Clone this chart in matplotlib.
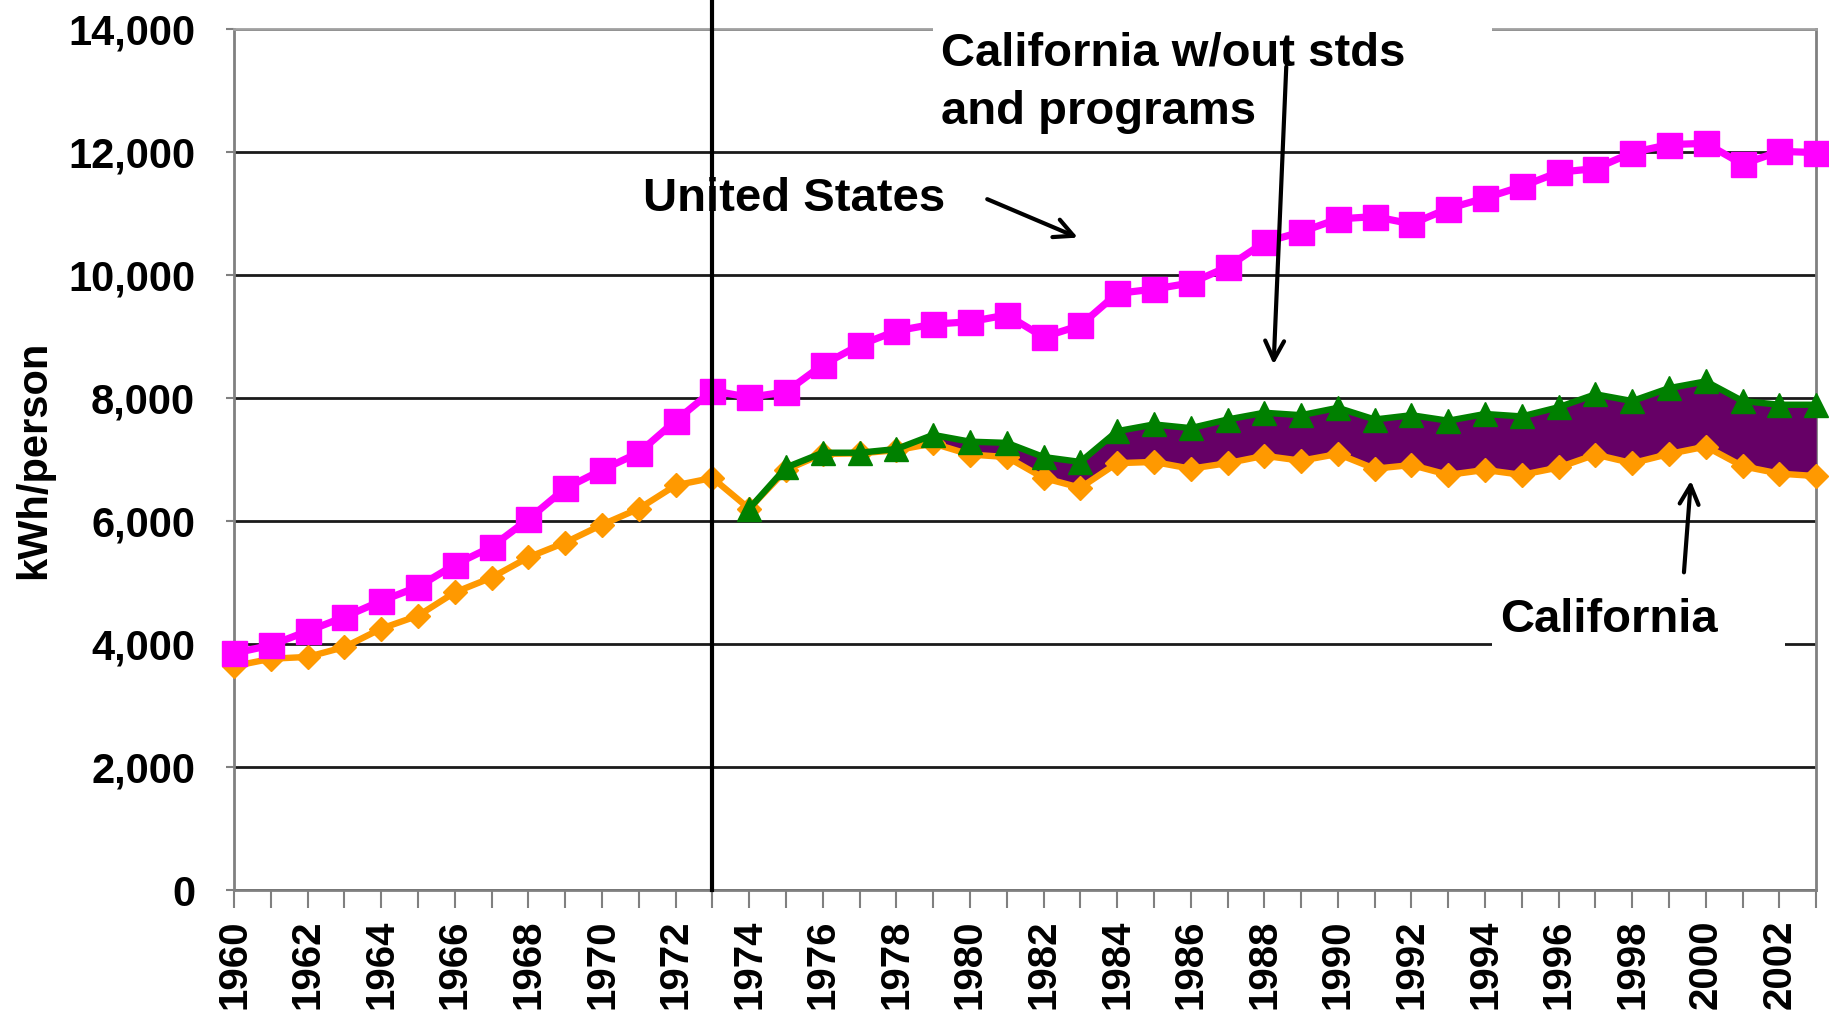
#!/usr/bin/env python3
# -*- coding: utf-8 -*-
"""
Per-capita electricity use: United States vs California, 1960-2003.
"""

import matplotlib
matplotlib.use("Agg")
import matplotlib.pyplot as plt
from matplotlib.patches import Rectangle
from matplotlib.ticker import FuncFormatter, MultipleLocator

# ==== data (kWh/person) ====
years = list(range(1960, 2004))

us_kwh = [3850, 3980, 4210, 4440, 4700, 4930, 5290, 5580, 6030, 6530,
          6830, 7110, 7630, 8120, 8010, 8100, 8540, 8860, 9090, 9200,
          9240, 9350, 8990, 9180, 9700, 9770, 9870, 10130, 10530, 10700,
          10910, 10950, 10830, 11080, 11250, 11440, 11670, 11730, 11990, 12120,
          12140, 11800, 12010, 11990]

ca_kwh = [3640, 3760, 3790, 3950, 4250, 4460, 4840, 5080, 5410, 5650,
          5940, 6200, 6580, 6700, 6200, 6830, 7090, 7100, 7150, 7260,
          7080, 7040, 6700, 6540, 6940, 6960, 6850, 6940, 7060, 6980,
          7090, 6850, 6910, 6750, 6830, 6750, 6870, 7080, 6940, 7090,
          7210, 6890, 6770, 6730]

ca_no_std_years = years[14:]
ca_no_std_kwh = [6200, 6870, 7110, 7110, 7170, 7400, 7290, 7270, 7040, 6960,
                 7460, 7570, 7510, 7650, 7760, 7720, 7840, 7650, 7720, 7630,
                 7740, 7700, 7850, 8060, 7950, 8160, 8270, 7950, 7890, 7890]

y_ticks = [0, 2000, 4000, 6000, 8000, 10000, 12000, 14000]

C_US = "#FF00FF"
C_CA = "#FF9900"
C_NOSTD = "#008000"
C_GAP = "#660066"

FONT = "Liberation Sans"


def main() -> None:
    fig = plt.figure(figsize=(18.29, 10.23), dpi=100)
    ax = fig.add_axes([0.128, 0.130, 0.865, 0.8417])

    # ==== gap between California and "without standards" ====
    ca_tail = ca_kwh[14:]
    ax.fill_between(ca_no_std_years, ca_tail, ca_no_std_kwh,
                    where=[g >= c for g, c in zip(ca_no_std_kwh, ca_tail)],
                    interpolate=True, color=C_GAP, lw=0, zorder=3)

    ax.plot(years, ca_kwh, color=C_CA, lw=4.6, marker="D", ms=12,
            mec=C_CA, zorder=4, clip_on=False)
    ax.plot(ca_no_std_years, ca_no_std_kwh, color=C_NOSTD, lw=4.6, marker="^",
            ms=17, mec=C_NOSTD, zorder=5, clip_on=False)
    ax.plot(years, us_kwh, color=C_US, lw=5.2, marker="s", ms=18,
            mec=C_US, zorder=6, clip_on=False)

    # vertical line at 1973, runs above the plot area
    ax.axvline(1973, ymin=0, ymax=1.035, color="black", lw=3,
               clip_on=False, zorder=7)

    # ==== axes ====
    ax.set_xlim(1960, 2003)
    ax.set_ylim(0, 14000)
    ax.set_yticks(y_ticks)
    ax.yaxis.set_major_formatter(FuncFormatter(lambda v, p: f"{int(v):,}"))
    ax.xaxis.set_major_locator(MultipleLocator(2))
    ax.xaxis.set_minor_locator(MultipleLocator(1))

    ax.grid(axis="y", color="#1a1a1a", lw=2.0)
    ax.set_axisbelow(True)
    for side in ["left", "right", "top", "bottom"]:
        ax.spines[side].set_color("#808080")
        ax.spines[side].set_linewidth(2.0)
    ax.spines["top"].set_color("#a0a0a0")

    ax.tick_params(axis="y", length=6, width=1.5, color="#808080", pad=22)
    ax.tick_params(axis="x", which="both", length=13, width=1.5,
                   color="#808080", pad=8)

    for lab in ax.get_yticklabels():
        lab.set_fontfamily(FONT)
        lab.set_fontweight("bold")
        lab.set_fontsize(30)
    for lab in ax.get_xticklabels():
        lab.set_fontfamily(FONT)
        lab.set_fontweight("bold")
        lab.set_fontsize(29)
        lab.set_rotation(90)

    ax.set_ylabel("kWh/person", fontfamily=FONT, fontweight="bold",
                  fontsize=30, labelpad=10)

    # ==== annotations ====
    txt = dict(fontfamily=FONT, fontweight="bold", fontsize=34, zorder=9)
    arrow = dict(arrowstyle="->", lw=3, color="black", mutation_scale=34)

    ax.add_patch(Rectangle((1979.0, 12300), 15.2, 2300, facecolor="white",
                           edgecolor="none", zorder=2.6, clip_on=False))
    ax.add_patch(Rectangle((1994.2, 3750), 7.95, 1250, facecolor="white",
                           edgecolor="none", zorder=2.6))

    ax.text(1971.1, 11230, "United States", ha="left", va="center", **txt)
    ax.annotate("", xy=(1983.0, 10590), xytext=(1980.4, 11250),
                arrowprops=arrow, zorder=9)

    ax.text(1979.2, 13130, "California w/out stds\nand programs", ha="left",
            va="center", linespacing=1.42, **txt)
    ax.annotate("", xy=(1988.25, 8500), xytext=(1988.6, 13430),
                arrowprops=arrow, zorder=9, annotation_clip=False)

    ax.text(1994.4, 4390, "California", ha="left", va="center", **txt)
    ax.annotate("", xy=(1999.6, 6700), xytext=(1999.4, 5120),
                arrowprops=arrow, zorder=9)

    fig.savefig("out.png", dpi=100)


if __name__ == "__main__":
    main()
